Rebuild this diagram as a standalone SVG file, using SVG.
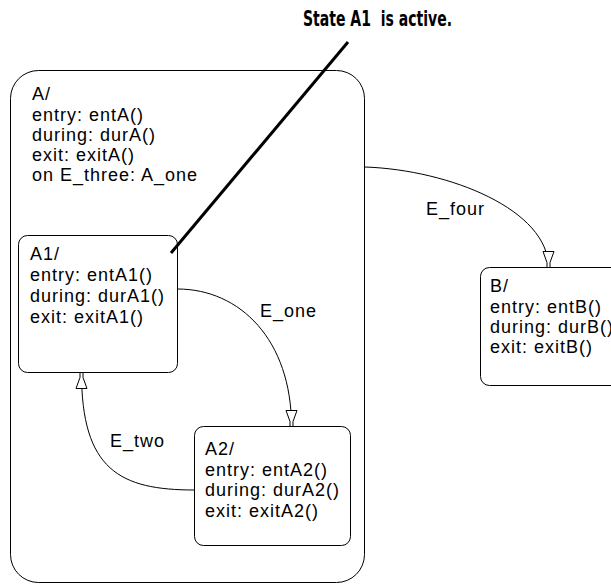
<svg xmlns="http://www.w3.org/2000/svg" width="611" height="585" viewBox="0 0 611 585">
  <style>
    .box { fill: #fff; stroke: #000; stroke-width: 1; }
    .t { font-family: "Liberation Sans", Arial, sans-serif; font-size: 18px; letter-spacing: 1px; fill: #000; }
    .title { font-family: "Liberation Sans Narrow", "DejaVu Sans Condensed", sans-serif; font-weight: bold; font-size: 22px; fill: #000; }
    .conn { fill: none; stroke: #000; stroke-width: 1; marker-end: url(#arr); }
  </style>
  <defs>
    <marker id="arr" markerUnits="userSpaceOnUse" orient="auto" viewBox="-18 -8 20 16" markerWidth="20" markerHeight="16" refX="0" refY="0">
      <path d="M-16,-5.5 L-5,-1.5 L0,-1.5 L0,1.5 L-5,1.5 L-16,5.5 Z" fill="#fff" stroke="#000" stroke-width="1"/>
    </marker>
  </defs>
  <rect width="611" height="585" fill="#fff"/>

  <g id="stateA">
    <rect class="box" x="10.5" y="70.5" width="354" height="512" rx="28" ry="28"/>
    <text class="t" x="32" y="100">A/</text>
    <text class="t" x="32" y="120.5">entry: entA()</text>
    <text class="t" x="32" y="141">during: durA()</text>
    <text class="t" x="32" y="161">exit: exitA()</text>
    <text class="t" x="32" y="181">on E_three: A_one</text>
  </g>

  <g id="stateA1">
    <rect class="box" x="18.5" y="235.5" width="159" height="137" rx="9" ry="9"/>
    <text class="t" x="30" y="260">A1/</text>
    <text class="t" x="30" y="281">entry: entA1()</text>
    <text class="t" x="30" y="302">during: durA1()</text>
    <text class="t" x="30" y="323">exit: exitA1()</text>
  </g>

  <g id="stateA2">
    <rect class="box" x="194.5" y="426.5" width="156" height="119" rx="9" ry="9"/>
    <text class="t" x="205" y="455">A2/</text>
    <text class="t" x="205" y="475.5">entry: entA2()</text>
    <text class="t" x="205" y="496">during: durA2()</text>
    <text class="t" x="205" y="516.5">exit: exitA2()</text>
  </g>

  <g id="stateB">
    <rect class="box" x="480.5" y="267.5" width="170" height="118" rx="9" ry="9"/>
    <text class="t" x="490" y="292">B/</text>
    <text class="t" x="490" y="313">entry: entB()</text>
    <text class="t" x="490" y="333">during: durB()</text>
    <text class="t" x="490" y="353">exit: exitB()</text>
  </g>

  <g id="connectors">
    <path class="conn" d="M365,167 C450,170 548.5,210 548.5,267.5"/>
    <path class="conn" d="M177.5,289 C240,289 291.5,340 291.5,426.5"/>
    <path class="conn" d="M194.5,490 C120,490 81.5,470 81.5,372.5"/>
    <text class="t" x="426" y="215">E_four</text>
    <text class="t" x="260" y="316.5">E_one</text>
    <text class="t" x="110" y="447">E_two</text>
  </g>

  <g id="annotation">
    <line x1="348" y1="42" x2="171" y2="253" stroke="#000" stroke-width="3"/>
    <text class="title" x="303" y="26" xml:space="preserve" textLength="149" lengthAdjust="spacingAndGlyphs">State A1  is active.</text>
  </g>
</svg>
